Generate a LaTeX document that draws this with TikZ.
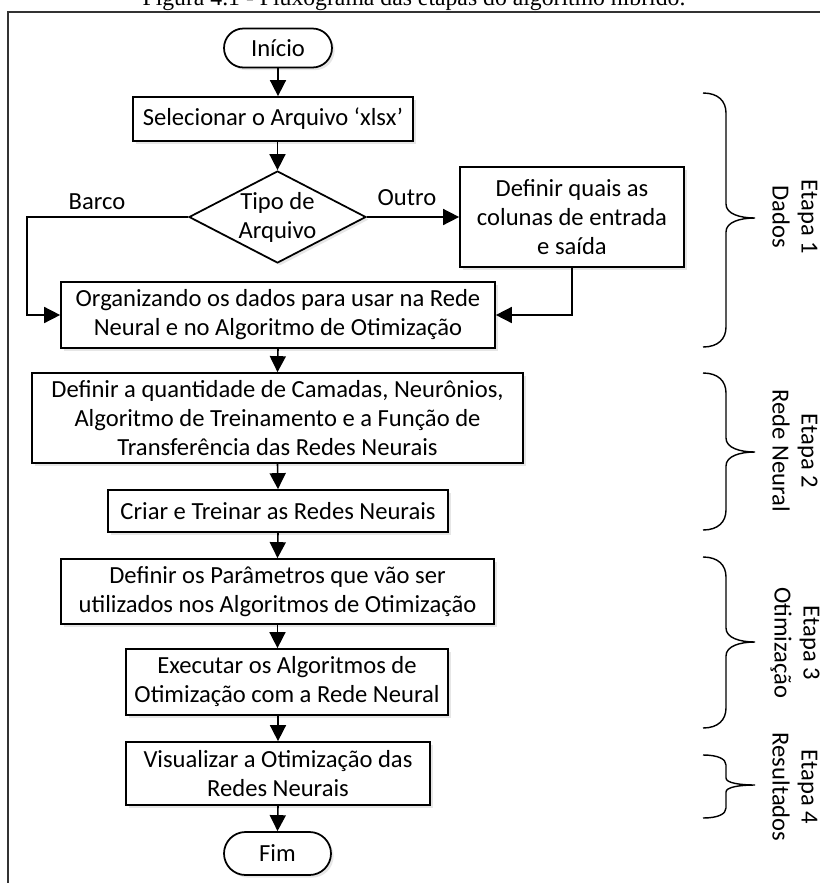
\documentclass[tikz,border=0pt]{standalone}
\usepackage{fontspec}
\setmainfont{Carlito}
\newfontfamily\legendafont{Liberation Serif}
\usetikzlibrary{shapes.geometric, arrows.meta, shadows}

\tikzset{
    sombra/.style={drop shadow={opacity=0.2, shadow xshift=1.5pt, shadow yshift=-1.5pt}},
    caixa/.style={draw, rectangle, line width=1pt, fill=white, align=center, inner sep=1pt, sombra},
    terminal/.style={caixa, rounded corners=0.39cm},
    decisao/.style={draw, diamond, line width=1pt, fill=white, align=center, inner sep=0pt, aspect=1.92, sombra},
    seta/.style={-{Triangle[length=0.32cm, width=0.32cm]}, line width=0.9pt},
    chaveline/.style={line width=0.8pt},
    etapa/.style={rotate=-90, align=center}
}

% chave lateral: topo, ponta, fim, curva
\newcommand{\chave}[4]{%
    \draw[chaveline] (703,#1) .. controls (718,#1) and (726,{#1+#4*0.4}) .. (726,{#1+#4})
        -- (726,{#2-#4*0.7}) .. controls (726,{#2-#4*0.2}) and (740,#2) .. (755,#2)
        .. controls (740,#2) and (726,{#2+#4*0.2}) .. (726,{#2+#4*0.7})
        -- (726,{#3-#4}) .. controls (726,{#3-#4*0.4}) and (718,#3) .. (703,#3);}

\begin{document}
\begin{tikzpicture}[x=0.02cm, y=-0.02cm, font=\fontsize{14}{16.5}\selectfont]
    \useasboundingbox (0,0) rectangle (820,883);

    % Legenda e moldura
    \node[font=\legendafont\fontsize{13.5}{16}\selectfont, anchor=base] (legenda) at (414,5) {Figura 4.1 - Fluxograma das etapas do algoritmo híbrido.};
    \draw[line width=1pt, black!80] (8,883) -- (8,12) -- (820,12);

    % Nodes
    \node[terminal, minimum width=2.16cm, minimum height=0.78cm] (inicio) at (278,48) {Início};
    \node[caixa, minimum width=5.6cm, minimum height=0.88cm] (selec) at (273,119) {Selecionar o Arquivo ‘xlsx’};
    \node[decisao, minimum width=3.54cm, minimum height=1.84cm] (tipo) at (277.5,217) {Tipo de\\Arquivo};
    \node[caixa, minimum width=4.48cm, minimum height=2cm] (quais) at (572,217) {Definir quais as\\colunas de entrada\\e saída};
    \node[caixa, minimum width=8.68cm, minimum height=1.32cm] (organiza) at (278,315) {Organizando os dados para usar na Rede\\Neural e no Algoritmo de Otimização};
    \node[caixa, minimum width=9.82cm, minimum height=1.8cm] (camadas) at (277.5,418) {Definir a quantidade de Camadas, Neurônios,\\Algoritmo de Treinamento e a Função de\\Transferência das Redes Neurais};
    \node[caixa, minimum width=6.8cm, minimum height=0.84cm] (criar) at (278,511) {Criar e Treinar as Redes Neurais};
    \node[caixa, minimum width=8.66cm, minimum height=1.3cm] (param) at (277.5,591.5) {Definir os Parâmetros que vão ser\\utilizados nos Algoritmos de Otimização};
    \node[caixa, minimum width=6.44cm, minimum height=1.32cm] (executa) at (287,682) {Executar os Algoritmos de\\Otimização com a Rede Neural};
    \node[caixa, minimum width=6.08cm, minimum height=1.26cm] (visual) at (278,773.5) {Visualizar a Otimização das\\Redes Neurais};
    \node[terminal, minimum width=2.14cm, minimum height=0.86cm, rounded corners=0.43cm] (fim) at (277.5,853.5) {Fim};

    \node (lbarco) at (97,202) {Barco};
    \node (loutro) at (407,198) {Outro};
    \coordinate (dobra) at (27,217);

    % Edges
    \draw[seta] (inicio) -- (selec.north -| inicio);
    \draw[seta] (tipo.north |- selec.south) -- (tipo.north);
    \draw[seta] (tipo.west) -- (dobra) |- (organiza.west);
    \draw[seta] (tipo.east) -- (quais.west);
    \draw[seta] (quais.south) |- (organiza.east);
    \draw[seta] (organiza.south) -- (camadas.north);
    \draw[seta] (camadas.south) -- (criar.north);
    \draw[seta] (criar.south) -- (param.north);
    \draw[seta] (param.south) -- (param.south |- executa.north);
    \draw[seta] (executa.south -| visual.north) -- (visual.north);
    \draw[seta] (visual.south) -- (fim.north);

    % Etapas
    \chave{93}{218}{347}{20}
    \chave{373}{452}{530}{20}
    \chave{557}{642}{728}{20}
    \chave{755}{785}{818}{10}
    \node[etapa] (et1) at (795,217) {Etapa 1\\Dados};
    \node[etapa] (et2) at (795,451) {Etapa 2\\Rede Neural};
    \node[etapa] (et3) at (795,643) {Etapa 3\\Otimização};
    \node[etapa] (et4) at (795,787) {Etapa 4\\Resultados};
\end{tikzpicture}
\end{document}
